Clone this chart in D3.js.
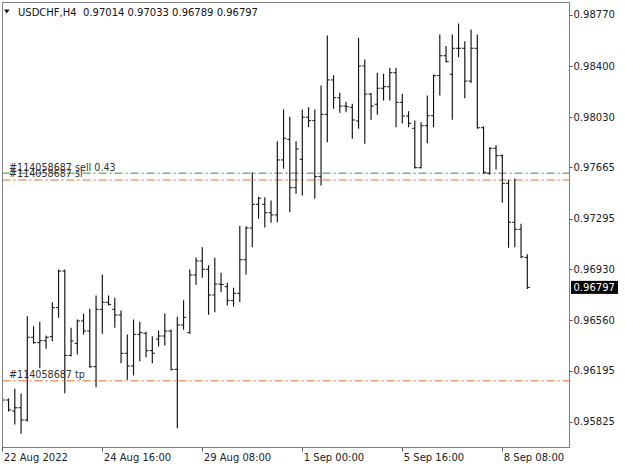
<!DOCTYPE html>
<html><head><meta charset="utf-8">
<script src="https://cdn.jsdelivr.net/npm/d3@7"></script>
<style>body{margin:0;background:#fff}svg{display:block}text{font-family:"DejaVu Sans",sans-serif}</style>
</head><body><div id="chart"></div>
<script>
const barOpen  = [0.95970,0.95982,0.95902,0.95926,0.95837,0.96436,0.96397,0.96411,0.96440,0.96650,0.96915,0.96305,0.96392,0.96554,0.96481,0.96223,0.96638,0.96689,0.96638,0.96597,0.96320,0.96228,0.96457,0.96465,0.96339,0.96423,0.96445,0.96481,0.96204,0.96525,0.96469,0.96887,0.96988,0.96928,0.96742,0.96821,0.96802,0.96701,0.96754,0.96997,0.97227,0.97398,0.97398,0.97337,0.97321,0.97719,0.97868,0.97518,0.97724,0.98028,0.98003,0.97598,0.98049,0.98298,0.98169,0.98109,0.98100,0.98001,0.98399,0.98196,0.98122,0.98238,0.98249,0.98350,0.98136,0.98037,0.97948,0.97663,0.97967,0.98039,0.98329,0.98473,0.98339,0.98527,0.98527,0.98290,0.98527,0.97952,0.97622,0.97803,0.97750,0.97550,0.97268,0.97217,0.97014];
const barHigh  = [0.95987,0.95989,0.96059,0.96025,0.96585,0.96512,0.96544,0.96445,0.96686,0.96923,0.96923,0.96501,0.96561,0.96602,0.96638,0.96735,0.96887,0.96735,0.96718,0.96626,0.96452,0.96561,0.96544,0.96472,0.96440,0.96481,0.96604,0.96489,0.96580,0.96701,0.96923,0.97010,0.97084,0.96954,0.97007,0.96899,0.96826,0.96790,0.97239,0.97236,0.97627,0.97449,0.97446,0.97422,0.97851,0.98080,0.98028,0.97851,0.98080,0.98097,0.98080,0.98254,0.98616,0.98329,0.98201,0.98136,0.98122,0.98599,0.98442,0.98200,0.98346,0.98339,0.98382,0.98382,0.98194,0.98068,0.98001,0.97989,0.98182,0.98334,0.98623,0.98539,0.98623,0.98703,0.98575,0.98659,0.98623,0.97960,0.97808,0.97822,0.97755,0.97574,0.97581,0.97253,0.97033];
const barLow   = [0.95716,0.95902,0.95808,0.95741,0.95830,0.96392,0.96216,0.96356,0.96411,0.96580,0.96035,0.96300,0.96315,0.96460,0.96219,0.96078,0.96465,0.96669,0.96508,0.96252,0.96132,0.96163,0.96266,0.96295,0.96252,0.96373,0.96380,0.96199,0.95782,0.96494,0.96465,0.96819,0.96870,0.96602,0.96621,0.96766,0.96669,0.96662,0.96693,0.96894,0.97091,0.97297,0.97234,0.97268,0.97272,0.97659,0.97345,0.97478,0.97465,0.97960,0.97442,0.97538,0.97851,0.98093,0.98064,0.98068,0.97876,0.97948,0.97840,0.98013,0.98049,0.98153,0.98153,0.97960,0.97986,0.97960,0.97660,0.97660,0.97844,0.97960,0.98189,0.98430,0.98013,0.98466,0.98169,0.98280,0.97948,0.97622,0.97615,0.97654,0.97413,0.97087,0.97091,0.97012,0.96789];
const barClose = [0.95982,0.95910,0.95926,0.95837,0.96436,0.96397,0.96411,0.96436,0.96650,0.96915,0.96305,0.96409,0.96554,0.96481,0.96223,0.96638,0.96689,0.96674,0.96597,0.96320,0.96228,0.96457,0.96469,0.96339,0.96320,0.96445,0.96481,0.96204,0.96525,0.96580,0.96887,0.96988,0.96928,0.96742,0.96821,0.96818,0.96701,0.96754,0.96997,0.97227,0.97398,0.97442,0.97337,0.97321,0.97719,0.97876,0.97518,0.97798,0.98028,0.98003,0.97598,0.98049,0.98298,0.98169,0.98109,0.98104,0.98008,0.98399,0.98196,0.98109,0.98238,0.98249,0.98350,0.98136,0.98037,0.97984,0.97663,0.97967,0.98039,0.98329,0.98473,0.98430,0.98527,0.98527,0.98290,0.98527,0.97952,0.97630,0.97803,0.97750,0.97550,0.97268,0.97217,0.97018,0.96797];

const priceTicks = [0.98770,0.98400,0.98030,0.97665,0.97295,0.96930,0.96560,0.96195,0.95825];
const timeTickLabels = ["22 Aug 2022","24 Aug 16:00","29 Aug 08:00","1 Sep 00:00","5 Sep 16:00","8 Sep 08:00"];
const timeTickBars = [0,16,32,48,64,80];

const levelNames  = ["#114058687 sell 0.43","#114058687 sl","#114058687 tp"];
const levelPrices = [0.97622,0.97574,0.96122];
const levelKinds  = ["order","stop","stop"];

const symbolTitle = "USDCHF,H4";
const lastOHLC = [0.97014,0.97033,0.96789,0.96797];

const W = 625, H = 469;
const frame = {l:2.5, t:2.5, r:569.5, b:447.5};

const svg = d3.select("#chart").append("svg").attr("width",W).attr("height",H);

const x = d3.scaleLinear().domain([0, 84]).range([2.3, 527.3]);
const y = d3.scaleLinear().domain([0.95825, 0.98770]).range([421.7, 14.7]);

svg.append("clipPath").attr("id","plot").append("rect")
  .attr("x",frame.l).attr("y",frame.t).attr("width",frame.r-frame.l).attr("height",frame.b-frame.t);

const plot = svg.append("g").attr("clip-path","url(#plot)");

// level lines
const levelColor = k => k === "order" ? "#6fbf6f" : "#f59a72";
plot.selectAll("line.level").data(levelPrices).join("line")
  .attr("class","level")
  .attr("x1",frame.l).attr("x2",frame.r)
  .attr("y1",d=>y(d)).attr("y2",d=>y(d))
  .attr("stroke",(d,i)=>levelColor(levelKinds[i]))
  .attr("stroke-width",1.5)
  .attr("stroke-dasharray","8,3,2,3");

// bars
const idx = d3.range(barOpen.length);
const bars = plot.append("g").attr("stroke","#111").attr("stroke-width",1.15).attr("fill","none");
bars.selectAll("line.hl").data(idx).join("line")
  .attr("x1",i=>x(i)).attr("x2",i=>x(i))
  .attr("y1",i=>y(barHigh[i])-0.5).attr("y2",i=>y(barLow[i])+0.5);
bars.selectAll("line.o").data(idx).join("line")
  .attr("x1",i=>x(i)-2.6).attr("x2",i=>x(i))
  .attr("y1",i=>y(barOpen[i])).attr("y2",i=>y(barOpen[i]))
  .attr("stroke-width",1);
bars.selectAll("line.c").data(idx).join("line")
  .attr("x1",i=>x(i)).attr("x2",i=>x(i)+2.6)
  .attr("y1",i=>y(barClose[i])).attr("y2",i=>y(barClose[i]))
  .attr("stroke-width",1);

// level labels
plot.selectAll("text.lvl").data(levelNames).join("text")
  .attr("x",9).attr("y",(d,i)=>y(levelPrices[i])-2.6)
  .attr("font-size","9.6px").attr("fill","#333")
  .text(d=>d);

// frame
svg.append("rect").attr("x",frame.l).attr("y",frame.t)
  .attr("width",frame.r-frame.l).attr("height",frame.b-frame.t)
  .attr("fill","none").attr("stroke","#808080").attr("stroke-width",1);

// right axis
const ra = svg.append("g");
ra.selectAll("line").data(priceTicks).join("line")
  .attr("x1",frame.r).attr("x2",frame.r+3)
  .attr("y1",d=>Math.round(y(d))+0.5).attr("y2",d=>Math.round(y(d))+0.5)
  .attr("stroke","#555");
ra.selectAll("text").data(priceTicks).join("text")
  .attr("x",573.5).attr("y",d=>y(d)+3.7)
  .attr("font-size","10px").attr("fill","#222")
  .text(d=>d.toFixed(5));

// bottom axis
const ba = svg.append("g");
ba.selectAll("line").data(timeTickBars).join("line")
  .attr("x1",i=>Math.round(x(i))+0.5).attr("x2",i=>Math.round(x(i))+0.5)
  .attr("y1",frame.b).attr("y2",frame.b+4)
  .attr("stroke","#555");
ba.selectAll("text").data(timeTickBars).join("text")
  .attr("x",i=>x(i)+1.5).attr("y",461)
  .attr("font-size","10px").attr("fill","#222")
  .text((d,i)=>timeTickLabels[i]);

// current price box
const cp = lastOHLC[3];
svg.append("rect").attr("x",571).attr("y",y(cp)-6.5).attr("width",47).attr("height",13).attr("fill","#000");
svg.append("text").attr("x",573.5).attr("y",y(cp)+3.7).attr("font-size","10px").attr("fill","#fff").text(cp.toFixed(5));

// title
svg.append("path").attr("d","M4,9.5L9.6,9.5L6.8,13.6Z").attr("fill","#111");
svg.append("text").attr("x",18).attr("y",16).attr("font-size","10px").attr("fill","#111")
  .attr("xml:space","preserve")
  .text(symbolTitle + "  " + lastOHLC.map(v=>v.toFixed(5)).join(" "));
</script></body></html>
